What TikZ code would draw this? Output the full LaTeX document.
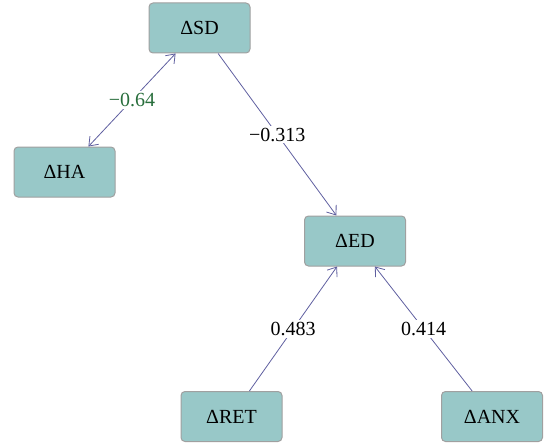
\documentclass[tikz,border=0pt]{standalone}
\usepackage{fontspec}
\setmainfont{Liberation Serif}
\usetikzlibrary{arrows.meta}
\definecolor{boxfill}{RGB}{152,200,200}
\definecolor{boxline}{RGB}{160,160,160}
\definecolor{linkc}{RGB}{95,95,160}
\definecolor{greenlab}{RGB}{40,110,60}
\tikzset{
  var/.style={draw=boxline, line width=1pt, fill=boxfill, rounded corners=4pt,
    minimum width=101pt, minimum height=50pt, inner sep=0pt,
    font=\fontsize{20}{22}\selectfont},
  link/.style={draw=linkc, line width=0.8pt, -{Straight Barb[length=8pt,width=12pt]}},
  coef/.style={fill=white, inner sep=2pt, font=\fontsize{20}{22}\selectfont}
}
\begin{document}
\begin{tikzpicture}[x=1pt,y=-1pt]
\useasboundingbox (0,0) rectangle (544,444);
\node[var] (SD) at (199.5,28) {ΔSD};
\node[var] (HA) at (64.5,172) {ΔHA};
\node[var] (ED) at (355,241) {ΔED};
\node[var] (RET) at (231.5,416.5) {ΔRET};
\node[var] (ANX) at (492,416.5) {ΔANX};
\draw[link, {Straight Barb[length=8pt,width=12pt]}-{Straight Barb[length=8pt,width=12pt]}] (HA) -- node[coef, text=greenlab] {−0.64} (SD);
\draw[link] (SD) -- node[coef] {−0.313} (ED);
\draw[link] (RET) -- node[coef] {0.483} (ED);
\draw[link] (ANX) -- node[coef] {0.414} (ED);
\end{tikzpicture}
\end{document}
